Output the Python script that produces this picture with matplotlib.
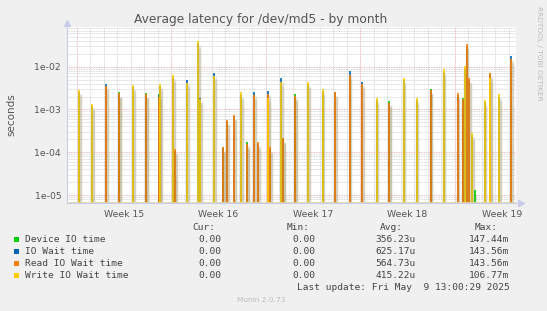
import numpy as np
import matplotlib
matplotlib.use("Agg")
import matplotlib.pyplot as plt
from matplotlib.patches import Rectangle

# spike positions, days after Mon 2025-04-07 00:00 (start of week 15)
spike_day = [0.19, 1.16, 2.17, 3.14, 4.20, 5.14, 6.12, 6.20, 7.16, 7.21, 7.26,
             8.20, 9.01, 9.16, 10.20, 10.87, 11.16, 11.68, 12.20, 12.60, 13.17,
             13.46, 14.20, 14.35, 15.17, 15.29, 16.20, 17.17, 18.21, 19.17, 20.21,
             21.17, 22.21, 23.17, 24.21, 25.17, 26.21, 27.17, 28.21, 28.58, 28.73,
             28.88, 29.06, 29.28, 29.47, 30.21, 30.64, 31.28, 32.17]

device_io = [0, 0, 0, 2.5e-3, 0, 2.4e-3, 2.3e-3, 0, 0, 3.5e-5, 0,
             0, 0, 0, 0, 1.35e-4, 0, 0, 0, 1.75e-4, 0,
             0, 0, 0, 0, 2.2e-4, 2.3e-3, 0, 0, 0, 0,
             0, 0, 1.6e-3, 0, 0, 3.0e-3, 0, 0, 1.9e-3, 0,
             0, 0, 0, 1.3e-5, 0, 0, 0, 0]
io_wait = [2.6e-3, 1.2e-3, 3.9e-3, 2.3e-3, 3.4e-3, 2.2e-3, 2.2e-3, 3.5e-3, 5.5e-3, 0, 1.05e-4,
           4.9e-3, 3.5e-2, 1.9e-3, 7.0e-3, 1.3e-4, 5.5e-4, 7.0e-4, 2.2e-3, 1.5e-4, 2.6e-3,
           1.6e-4, 2.7e-3, 1.2e-4, 5.4e-3, 2.0e-4, 2.0e-3, 4.0e-3, 2.7e-3, 2.5e-3, 8.0e-3,
           4.4e-3, 1.7e-3, 1.4e-3, 4.8e-3, 1.7e-3, 2.8e-3, 7.5e-3, 2.2e-3, 1.7e-3, 9.0e-3,
           3.0e-2, 5.0e-3, 2.5e-4, 0, 1.5e-3, 6.8e-3, 2.0e-3, 1.78e-2]
read_io = [0, 0, 3.6e-3, 2.4e-3, 0, 2.3e-3, 2.0e-3, 0, 0, 0, 1.2e-4,
           0, 0, 0, 0, 1.3e-4, 5.8e-4, 7.6e-4, 0, 1.6e-4, 2.2e-3,
           1.75e-4, 2.3e-3, 1.3e-4, 0, 2.1e-4, 2.1e-3, 0, 0, 2.6e-3, 6.5e-3,
           4.0e-3, 0, 1.45e-3, 0, 0, 2.9e-3, 0, 2.4e-3, 1.8e-3, 0,
           3.4e-2, 5.4e-3, 0, 0, 0, 7.0e-3, 0, 1.5e-2]
write_io = [2.9e-3, 1.35e-3, 0, 0, 3.8e-3, 0, 0, 4.0e-3, 6.4e-3, 0, 0,
            4.1e-3, 4.0e-2, 1.8e-3, 6.0e-3, 0, 0, 0, 2.5e-3, 0, 0,
            0, 1.9e-3, 0, 4.5e-3, 0, 0, 4.5e-3, 3.0e-3, 0, 0,
            0, 1.9e-3, 0, 5.4e-3, 1.9e-3, 0, 8.7e-3, 0, 0, 1.05e-2,
            0, 0, 2.8e-4, 0, 1.7e-3, 5.4e-3, 2.3e-3, 0]

series = [("Device IO time", device_io, "#00CC00", "0.00", "0.00", "356.23u", "147.44m"),
          ("IO Wait time", io_wait, "#0066B3", "0.00", "0.00", "625.17u", "143.56m"),
          ("Read IO Wait time", read_io, "#FF8000", "0.00", "0.00", "564.73u", "143.56m"),
          ("Write IO Wait time", write_io, "#FFCC00", "0.00", "0.00", "415.22u", "106.77m")]

W, H = 547, 311
fig = plt.figure(figsize=(W / 100, H / 100), dpi=100, facecolor="#F0F0F0")
ax = fig.add_axes([66.7 / W, 1 - 203 / H, (516 - 66.7) / W, 176 / H])
ax.set_facecolor("white")
ax.set_yscale("log")
ybot, ytop = 10 ** -5.187, 10 ** -1.072
xmin, xmax = -0.74, 32.54
ax.set_xlim(xmin, xmax)
ax.set_ylim(ybot, ytop)

# grid
for d in range(0, 33):
    col = "#E5A0A0" if d % 7 == 0 else "#CCCCCC"
    ax.axvline(d, color=col, lw=0.6, ls=(0, (1, 1)), zorder=0)
for e in range(-6, -1):
    for m in range(1, 10):
        v = m * 10.0 ** e
        if ybot < v < ytop:
            col = "#E5A0A0" if m == 1 else "#CCCCCC"
            ax.axhline(v, color=col, lw=0.6, ls=(0, (1, 1)), zorder=0)

# spikes
x = np.array(spike_day)
for name, vals, col, *_ in series:
    v = np.array(vals)
    m = v > 0
    ax.vlines(x[m] + 0.06, ybot, v[m] * 0.8, color="#B8B090", lw=2.4, alpha=0.35, zorder=2)
    ax.vlines(x[m], ybot, v[m], color=col, lw=1.2, zorder=3)
ax.axhline(ybot * 1.02, color="#E8D8A8", lw=1.2, zorder=4)

ax.set_yticks([1e-5, 1e-4, 1e-3, 1e-2])
ax.set_yticklabels(["1e-05", "1e-04", "1e-03", "1e-02"])
ax.minorticks_off()
ax.set_xticks([3.5, 10.5, 17.5, 24.5, 31.5])
ax.set_xticklabels(["Week 15", "Week 16", "Week 17", "Week 18", "Week 19"])
ax.tick_params(length=0, labelsize=6.7, colors="#555555", pad=4)
ax.tick_params(axis="x", pad=5)
for s in ["top", "right"]:
    ax.spines[s].set_visible(False)
ax.spines["left"].set_color("#C8CCE8")
ax.spines["bottom"].set_color("#C8CCE8")
ax.plot([xmin], [ytop * 1.25], marker="^", color="#C8CCE8", ms=4, clip_on=False)
ax.plot([xmax + 0.35], [ybot], marker=">", color="#C8CCE8", ms=4, clip_on=False)

ax.set_ylabel("seconds", fontsize=7.5, color="#555555", labelpad=13)
fig.text(261 / W, 1 - 19 / H, "Average latency for /dev/md5 - by month",
         ha="center", va="center", fontsize=8.8, color="#555555")
fig.text(539 / W, 1 - 6 / H, "RRDTOOL / TOBI OETIKER", rotation=270,
         ha="center", va="top", fontsize=5.3, color="#BBBBBB")

# legend
mono = "DejaVu Sans Mono"
fs = 6.8
tc = "#444444"
hy = 227.3
for txt, xe in [("Cur:", 215.7), ("Min:", 310), ("Avg:", 403.3), ("Max:", 497.3)]:
    fig.text(xe / W, 1 - hy / H, txt, family=mono, fontsize=fs, color=tc, ha="right", va="center")
for i, (name, vals, col, cur, mn, avg, mx) in enumerate(series):
    y = 239.7 + 12 * i
    fig.add_artist(Rectangle((13.7 / W, 1 - (y + 2.6) / H), 5.2 / W, 5.2 / H,
                             transform=fig.transFigure, facecolor=col, edgecolor="none"))
    fig.text(25 / W, 1 - y / H, name, family=mono, fontsize=fs, color=tc, ha="left", va="center")
    for txt, xe in [(cur, 221), (mn, 315.7), (avg, 415.7), (mx, 509.3)]:
        fig.text(xe / W, 1 - y / H, txt, family=mono, fontsize=fs, color=tc, ha="right", va="center")
fig.text(509.3 / W, 1 - 287.7 / H, "Last update: Fri May  9 13:00:29 2025",
         family=mono, fontsize=fs, color=tc, ha="right", va="center")
fig.text(260.7 / W, 1 - 300 / H, "Munin 2.0.73", fontsize=5.3, color="#BBBBBB",
         ha="center", va="center")

fig.savefig("out.png", dpi=100, facecolor=fig.get_facecolor())
